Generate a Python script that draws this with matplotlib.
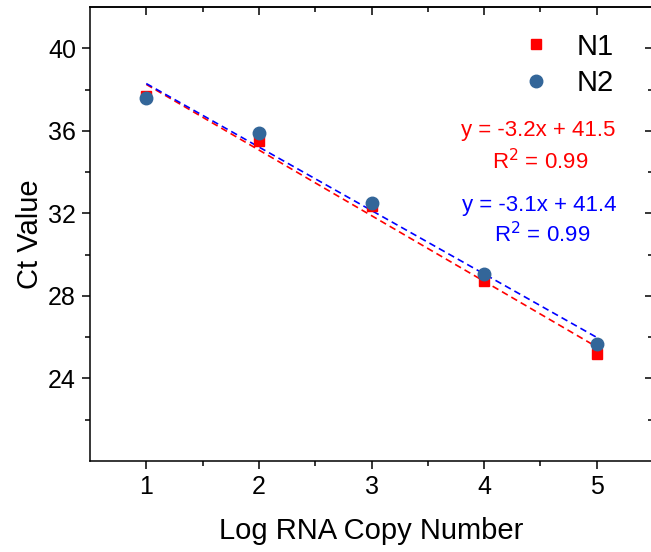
import matplotlib.pyplot as plt
import numpy as np

plt.rcParams['font.family'] = ['Liberation Sans', 'DejaVu Sans']

log_copies = [1, 2, 3, 4, 5]
ct_n1 = [37.7, 35.5, 32.35, 28.7, 25.2]
ct_n2 = [37.6, 35.9, 32.5, 29.05, 25.65]
eq_n1 = ['y = -3.2x + 41.5', 'R$^2$ = 0.99']
eq_n2 = ['y = -3.1x + 41.4', 'R$^2$ = 0.99']

fig = plt.figure(figsize=(6.51, 5.52), dpi=100)
ax = fig.add_axes((90 / 651, 91 / 552, 563 / 651, 454 / 552))

x = np.array(log_copies)

# linear fits, drawn first so markers sit on top
k1, b1 = np.polyfit(x, ct_n1, 1)
k2, b2 = np.polyfit(x, ct_n2, 1)
ax.plot(x, k1 * x + b1, color='red', ls='--', lw=1.2, dashes=(4, 2.5), zorder=2)
ax.plot(x, k2 * x + b2, color='blue', ls='--', lw=1.2, dashes=(4, 2.5), zorder=2)

ax.plot(x, ct_n1, 's', color='red', ms=7.5, label='N1', zorder=3)
ax.plot(x, ct_n2, 'o', color='#336699', ms=9, label='N2', zorder=4)

ax.set_xlim(0.5, 5.5)
ax.set_ylim(20, 42)
major_x = [1, 2, 3, 4, 5]
minor_x = [1.5, 2.5, 3.5, 4.5]
major_y = [24, 28, 32, 36, 40]
minor_y = [22, 26, 30, 34, 38]
ax.set_xticks(major_x)
ax.set_yticks(major_y)
ax.set_xticks(minor_x, minor=True)
ax.set_yticks(minor_y, minor=True)

ax.tick_params(which='major', length=6, width=1.1, labelsize=18, pad=4, direction='out')
ax.tick_params(which='minor', length=3.5, width=1.1, direction='out')
for s in ax.spines.values():
    s.set_linewidth(1.1)

# mirrored inward ticks on top and right, no labels
top = ax.secondary_xaxis('top')
top.set_xticks(major_x)
top.set_xticks(minor_x, minor=True)
right = ax.secondary_yaxis('right')
right.set_yticks(major_y)
right.set_yticks(minor_y, minor=True)
for sec in (top, right):
    sec.tick_params(which='major', length=6, width=1.1, direction='in', labelsize=0)
    sec.tick_params(which='minor', length=3.5, width=1.1, direction='in')
    sec.tick_params(which='both', labeltop=False, labelright=False)
    for s in sec.spines.values():
        s.set_linewidth(1.1)

ax.set_xlabel('Log RNA Copy Number', fontsize=21, labelpad=13)
ax.set_ylabel('Ct Value', fontsize=21, labelpad=3)

ax.text(4.48, 36.0, eq_n1[0], color='red', fontsize=16, ha='center', va='center')
ax.text(4.50, 34.5, eq_n1[1], color='red', fontsize=16, ha='center', va='center')
ax.text(4.49, 32.4, eq_n2[0], color='blue', fontsize=16, ha='center', va='center')
ax.text(4.52, 30.95, eq_n2[1], color='blue', fontsize=16, ha='center', va='center')

ax.legend(loc='upper left', bbox_to_anchor=(504 / 651, 1 - 18 / 552),
          bbox_transform=fig.transFigure, frameon=False, fontsize=21,
          handletextpad=0.8, labelspacing=0.3, borderpad=0, handlelength=1.2)

fig.savefig('out.png', dpi=100)
